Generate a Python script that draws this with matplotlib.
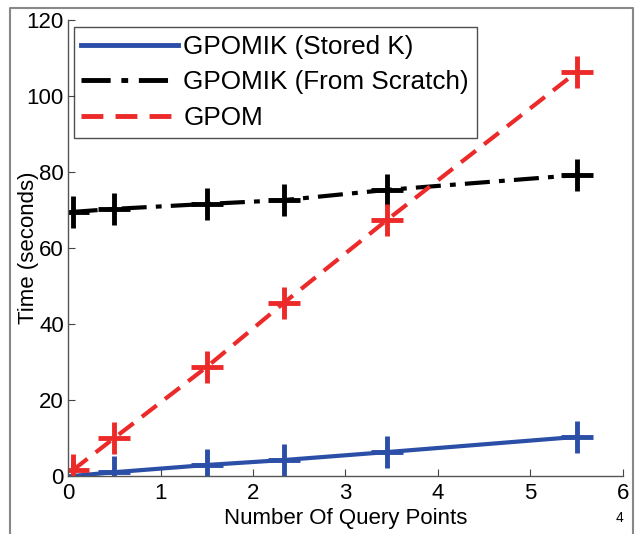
import numpy as np
import matplotlib.pyplot as plt
from matplotlib.lines import Line2D

plt.rcParams['font.family'] = ['Liberation Sans', 'DejaVu Sans']

# Data: query points (x 1e4) vs time in seconds
query_points = np.array([0.05, 0.5, 1.5, 2.33, 3.45, 5.5])
t_stored_k = np.array([0.0, 1.0, 2.9, 4.2, 6.3, 10.3])
t_from_scratch = np.array([69.5, 70.3, 71.6, 72.6, 75.3, 79.2])
t_gpom = np.array([1.5, 10.0, 28.7, 45.5, 67.4, 106.3])

labels = ["GPOMIK (Stored K)", "GPOMIK (From Scratch)", "GPOM"]
colors = ["#2b4ea6", "#000000", "#ec2a2a"]

fig = plt.figure(figsize=(6.41, 5.34), dpi=100)
ax = fig.add_axes([0.1061, 0.1086, 0.8658, 0.8539])

series = [t_stored_k, t_from_scratch, t_gpom]
styles = [dict(linestyle="-"),
          dict(dashes=(6, 2.2, 1.4, 2.2)),
          dict(dashes=(4.5, 2.5))]

handles = []
for y, lab, c, st in zip(series, labels, colors, styles):
    ax.plot(query_points, y, color=c, lw=3, **st)
    ax.plot(query_points, y, color=c, lw=0, marker="+", ms=23, mew=3.5)
    handles.append(Line2D([], [], color=c, lw=3.5, **st))

ax.set_xlim(0, 6)
ax.set_ylim(0, 120)
ax.set_xticks(range(0, 7))
ax.set_yticks(range(0, 121, 20))
ax.tick_params(direction="in", length=5, width=0.8, labelsize=16, color="#444444")
ax.tick_params(axis="x", pad=5)
ax.tick_params(axis="y", pad=3)
for side in ["top", "right"]:
    ax.spines[side].set_visible(False)
for side in ["left", "bottom"]:
    ax.spines[side].set_color("#555555")
    ax.spines[side].set_linewidth(1.0)

ax.set_xlabel("Number Of Query Points", fontsize=16, labelpad=3)
ax.set_ylabel("Time (seconds)", fontsize=16, labelpad=-9)
fig.text(620 / 641, 1 - 518 / 534, "4", fontsize=10, ha="center", va="center")

leg = ax.legend(handles, labels, loc="upper left", bbox_to_anchor=(0.01, 0.985),
                fontsize=18.8, frameon=True, fancybox=False, handlelength=3.7,
                handletextpad=0.2, borderpad=0.3, labelspacing=0.44, borderaxespad=0)
leg.get_frame().set_edgecolor("#222222")
leg.get_frame().set_linewidth(1.0)

# outer border of the figure
fx = [10 / 641, 10 / 641, 633 / 641, 633 / 641]
fy = [0.0, 1 - 8 / 534, 1 - 8 / 534, 0.0]
fig.add_artist(Line2D(fx, fy, transform=fig.transFigure, color="#888888", lw=1.5))

fig.savefig("out.png", dpi=100)
